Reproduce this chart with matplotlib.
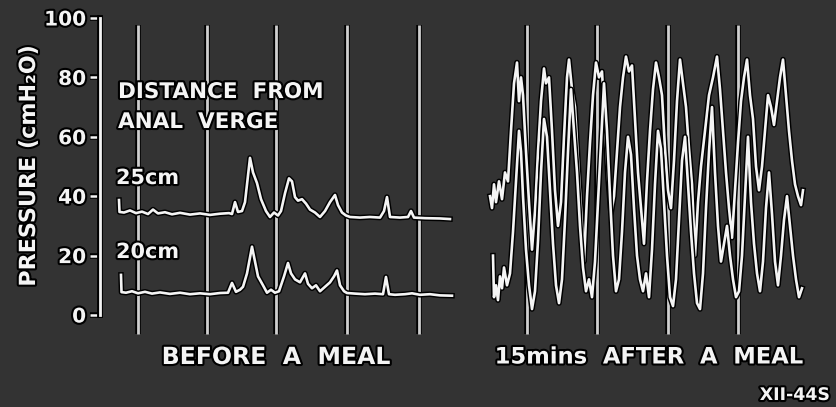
import matplotlib
matplotlib.use("Agg")
import matplotlib.pyplot as plt
import matplotlib.patheffects as pe

# ---- recorded traces: (chart position, pressure in cmH2O) ----
before_25_x = [119, 119.5, 124, 130, 136, 142, 148, 153, 158, 165, 172, 180, 190, 200, 210, 220,
               229, 232, 235, 238, 242, 245, 250, 253, 257, 261, 266, 270, 274, 278, 281, 285,
               289, 292, 295, 298, 302, 306, 310, 315, 320, 325, 330, 335, 338, 342, 346, 350,
               360, 370, 380, 384, 387, 390, 400, 408, 411, 414, 425, 440, 450]
before_25_p = [38.7, 34.7, 34.5, 35.2, 34.3, 34.8, 34.0, 35.5, 34.2, 34.6, 33.9, 34.4, 33.8, 34.2,
               33.7, 34.1, 34.3, 34.0, 38.0, 34.7, 35.0, 38.0, 52.9, 48.0, 44.4, 39.0, 35.0, 33.0,
               34.5, 33.5, 35.0, 41.0, 46.0, 45.0, 39.7, 38.5, 39.0, 37.5, 35.5, 34.5, 33.0, 35.0,
               38.0, 40.4, 37.0, 34.5, 33.5, 33.0, 32.8, 33.0, 32.8, 35.0, 39.7, 33.0, 32.8, 33.0,
               35.0, 32.8, 32.6, 32.5, 32.3]

before_20_x = [121, 121.5, 126, 132, 138, 145, 152, 160, 170, 180, 190, 200, 210, 220, 228, 232,
               236, 240, 243, 247, 252, 255, 258, 263, 267, 271, 275, 279, 284, 288, 291, 295,
               300, 305, 308, 312, 316, 320, 325, 330, 334, 337, 340, 344, 347, 355, 365, 375,
               383, 386, 389, 395, 405, 412, 420, 430, 440, 452]
before_20_p = [13.5, 7.7, 7.5, 8.0, 7.3, 7.8, 7.2, 7.6, 7.1, 7.5, 7.0, 7.3, 7.0, 7.4, 7.5, 10.8,
               7.8, 8.5, 9.5, 14.0, 23.0, 18.0, 13.0, 10.0, 7.5, 8.5, 7.5, 8.0, 13.0, 17.5, 14.0,
               12.0, 11.0, 14.0, 10.5, 9.0, 10.0, 8.0, 9.5, 11.0, 13.0, 15.0, 10.0, 8.0, 7.4, 7.2,
               7.0, 7.2, 7.0, 12.8, 7.0, 6.8, 7.0, 7.3, 6.8, 7.0, 6.6, 6.5]

after_25_x = [490, 492, 494, 496, 499, 502, 505, 508, 511, 514,
              517, 519, 521, 523, 526, 529, 532, 535, 538, 541,
              544, 546, 549, 552, 555, 558, 561, 564, 567, 569,
              572, 575, 578, 581, 584, 587, 590, 593, 596, 599,
              602, 605, 608, 611, 614, 617, 620, 623, 626, 629,
              632, 635, 638, 641, 644, 647, 650, 653, 656, 659,
              662, 665, 668, 671, 674, 677, 680, 683, 686, 689,
              692, 695, 698, 701, 705, 709, 713, 717, 720, 723,
              726, 729, 732, 735, 738, 741, 744, 747, 750, 753,
              756, 759, 762, 765, 768, 771, 774, 777, 780, 783,
              786, 789, 792, 795, 798, 801, 803]
after_25_p = [40, 36, 44, 38, 45, 39, 48, 45, 62, 78,
              85, 72, 80, 74, 55, 38, 22, 35, 55, 72,
              83, 78, 80, 62, 42, 30, 38, 60, 80, 86,
              76, 70, 52, 36, 18, 40, 58, 74, 85, 80,
              82, 64, 46, 34, 40, 55, 70, 80, 87, 82,
              84, 66, 48, 36, 24, 45, 62, 76, 85, 80,
              74, 56, 42, 36, 52, 72, 86, 78, 70, 56,
              44, 20, 38, 50, 62, 74, 80, 87, 76, 62,
              48, 36, 26, 42, 58, 72, 80, 86, 74, 66,
              50, 42, 50, 62, 74, 70, 64, 72, 80, 86,
              74, 62, 52, 44, 40, 37, 42]

after_20_x = [493, 494, 496, 498, 500, 502, 504, 507, 510, 513,
              516, 519, 521, 523, 526, 529, 532, 535, 538, 541,
              544, 547, 550, 553, 556, 559, 562, 565, 568, 571,
              574, 577, 580, 583, 586, 589, 592, 595, 598, 601,
              604, 607, 610, 613, 616, 619, 622, 625, 628, 631,
              634, 637, 640, 643, 646, 649, 652, 655, 658, 661,
              664, 667, 670, 673, 676, 679, 682, 685, 688, 691,
              694, 697, 700, 703, 706, 709, 712, 715, 718, 721,
              724, 727, 730, 733, 736, 739, 742, 745, 748, 751,
              754, 757, 760, 763, 766, 769, 772, 775, 778, 781,
              784, 787, 790, 793, 796, 799, 802]
after_20_p = [20, 6, 10, 5, 13, 9, 16, 10, 14, 28,
              45, 62, 55, 40, 22, 10, 2, 8, 25, 48,
              66, 60, 42, 24, 10, 4, 12, 32, 55, 76,
              62, 48, 30, 16, 8, 12, 6, 18, 38, 58,
              78, 62, 40, 20, 8, 12, 28, 48, 60, 54,
              36, 20, 12, 8, 14, 6, 22, 44, 62, 56,
              38, 20, 6, 3, 12, 32, 52, 60, 44, 28,
              14, 4, 2, 14, 36, 55, 70, 48, 30, 18,
              24, 30, 20, 12, 6, 8, 20, 40, 60, 38,
              24, 14, 8, 18, 36, 48, 34, 18, 10, 20,
              32, 40, 30, 20, 12, 6, 9]

# one-minute time marks
marks_before = [138, 207, 276, 347, 419]
marks_after = [527, 597, 668, 738]
mark_span = (-6.5, 97.5)

pressure_ticks = [0, 20, 40, 60, 80, 100]
pressure_labels = ["0", "20", "40", "60", "80", "100"]

BG = "#333333"
INK = "#f4f4f4"
W, H = 837, 407


def outline(w):
    return [pe.Stroke(linewidth=w, foreground="black"), pe.Normal()]


fig = plt.figure(figsize=(W / 100, H / 100), dpi=100)
fig.patch.set_facecolor(BG)
ax = fig.add_axes([0, 0, 1, 1])
ax.set_facecolor(BG)
ax.set_xlim(0, W)
ax.set_ylim(-30.98, 106.06)

# pressure axis
for side in ("top", "right", "bottom"):
    ax.spines[side].set_visible(False)
sp = ax.spines["left"]
sp.set_position(("data", 100))
sp.set_bounds(0, 100)
sp.set_color(INK)
sp.set_linewidth(2.0)
sp.set_path_effects(outline(4.2))
ax.set_xticks([])
ax.set_yticks(pressure_ticks)
ax.set_yticklabels(pressure_labels)
ax.tick_params(axis="y", direction="out", length=7, width=1.8, color=INK,
               labelcolor=INK, labelsize=14.5, pad=3)
for t in ax.yaxis.get_major_ticks():
    t.tick1line.set_path_effects(outline(4.0))
    t.label1.set_fontweight("bold")
    t.label1.set_path_effects(outline(3.0))

# time marks
for xm in marks_before + marks_after:
    ax.plot([xm, xm], mark_span, color="#cfcfcf", lw=2.0, solid_capstyle="butt",
            path_effects=outline(4.0), zorder=2)

# traces
for xs, ps in ((before_25_x, before_25_p), (before_20_x, before_20_p),
               (after_25_x, after_25_p), (after_20_x, after_20_p)):
    ax.plot(xs, ps, color=INK, lw=1.9, solid_joinstyle="round",
            path_effects=outline(4.0), zorder=3)

txt = dict(color=INK, fontweight="bold", family="DejaVu Sans",
           path_effects=outline(3.0))


def fx(x):
    return x / W


def fy(y):
    return 1 - y / H


fig.text(fx(29), fy(166), "PRESSURE (cmH₂O)", rotation=90, ha="center", va="center",
         fontsize=16, **txt)
fig.text(fx(118), fy(92), "DISTANCE  FROM", ha="left", va="center", fontsize=15.5, **txt)
fig.text(fx(118), fy(122), "ANAL  VERGE", ha="left", va="center", fontsize=15.5, **txt)
fig.text(fx(116), fy(178), "25cm", ha="left", va="center", fontsize=15, **txt)
fig.text(fx(116), fy(252), "20cm", ha="left", va="center", fontsize=15, **txt)
fig.text(fx(276), fy(357), "BEFORE  A  MEAL", ha="center", va="center", fontsize=17, **txt)
fig.text(fx(649), fy(357), "15mins  AFTER  A  MEAL", ha="center", va="center",
         fontsize=16.3, **txt)
fig.text(fx(830), fy(395), "XII-44S", ha="right", va="center", fontsize=12.5, **txt)

fig.savefig("out.png", dpi=100, facecolor=BG)
